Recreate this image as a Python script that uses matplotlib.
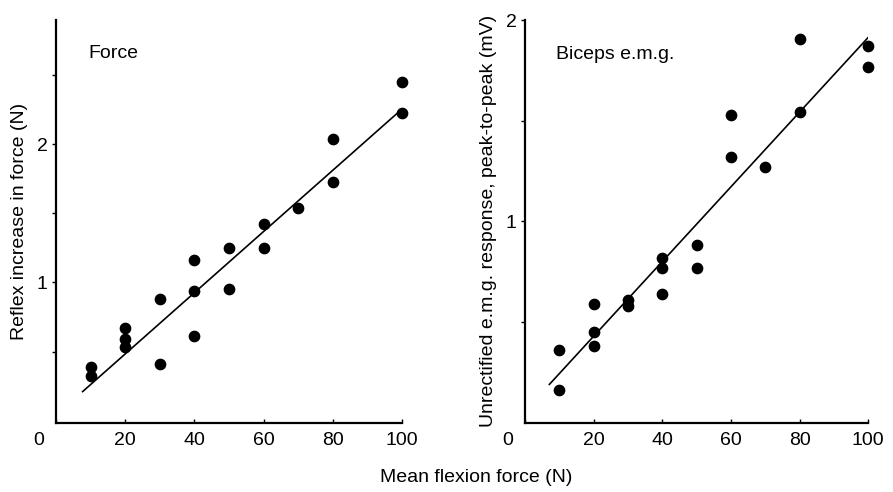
import matplotlib
matplotlib.use("Agg")
import matplotlib.pyplot as plt
import matplotlib.transforms as mtransforms

plt.rcParams['font.family'] = ['Liberation Sans', 'DejaVu Sans']

# Force panel
force_x = [10, 10, 20, 20, 20, 30, 30, 40, 40, 40, 50, 50, 60, 60, 70, 80, 80, 100, 100]
force_y = [0.39, 0.32, 0.67, 0.59, 0.53, 0.88, 0.41, 1.16, 0.94, 0.61, 1.25, 0.95,
           1.42, 1.25, 1.54, 2.04, 1.73, 2.45, 2.23]
force_fit_x = [7.7, 102]
force_fit_y = [0.21, 2.30]

# Biceps e.m.g. panel
emg_x = [10, 10, 20, 20, 20, 30, 30, 40, 40, 40, 50, 50, 60, 60, 70, 80, 80, 100, 100]
emg_y = [0.36, 0.16, 0.59, 0.45, 0.38, 0.61, 0.58, 0.82, 0.77, 0.64, 0.885, 0.77,
         1.53, 1.32, 1.27, 1.905, 1.545, 1.87, 1.765]
emg_fit_x = [7.1, 100.6]
emg_fit_y = [0.19, 1.925]

x_ticks = [0, 20, 40, 60, 80, 100]

fig = plt.figure(figsize=(8.93, 4.92), dpi=100)
ax1 = fig.add_axes([0.0627, 0.1409, 0.3875, 0.8184])
ax2 = fig.add_axes([0.5879, 0.1409, 0.3844, 0.8184])

fs = 14


def style(ax):
    for s in ['top', 'right']:
        ax.spines[s].set_visible(False)
    for s in ['left', 'bottom']:
        ax.spines[s].set_linewidth(1.6)
    ax.set_xlim(0, 100)
    ax.set_xticks(x_ticks)
    ax.set_xticklabels([str(v) for v in x_ticks], fontsize=fs)
    ax.tick_params(axis='x', direction='in', length=3, width=1, pad=7)
    ax.tick_params(axis='y', direction='out', length=3, width=1, pad=3)
    # shift the "0" label left of the origin
    off = mtransforms.ScaledTranslation(-0.17, 0, fig.dpi_scale_trans)
    lab = ax.get_xticklabels()[0]
    lab.set_transform(lab.get_transform() + off)


ax1.plot(force_fit_x, force_fit_y, color='black', lw=1.2)
ax1.scatter(force_x, force_y, s=55, color='black', zorder=3, clip_on=False)
ax1.set_ylim(-0.015, 2.9)
ax1.set_yticks([0.5, 1, 1.5, 2, 2.5])
ax1.set_yticklabels(['', '1', '', '2', ''], fontsize=fs)
ax1.set_ylabel('Reflex increase in force (N)', fontsize=fs, labelpad=6)
ax1.text(0.095, 0.918, 'Force', transform=ax1.transAxes, fontsize=fs, va='center')
style(ax1)

ax2.plot(emg_fit_x, emg_fit_y, color='black', lw=1.2)
ax2.scatter(emg_x, emg_y, s=55, color='black', zorder=3, clip_on=False)
ax2.set_ylim(0, 2.0)
ax2.set_yticks([0.5, 1, 1.5, 2])
ax2.set_yticklabels(['', '1', '', '2'], fontsize=fs)
ax2.set_ylabel('Unrectified e.m.g. response, peak-to-peak (mV)', fontsize=fs, labelpad=6)
ax2.text(0.09, 0.915, 'Biceps e.m.g.', transform=ax2.transAxes, fontsize=fs, va='center')
style(ax2)

fig.text(0.533, 0.03, 'Mean flexion force (N)', fontsize=fs, ha='center', va='center')

fig.savefig('out.png', dpi=100)
